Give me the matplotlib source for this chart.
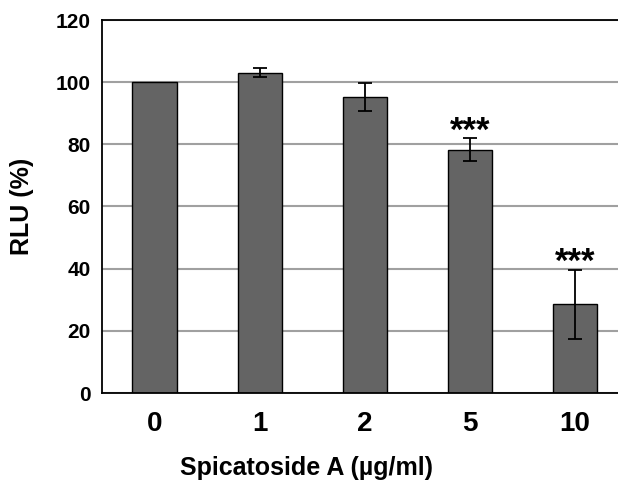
import matplotlib
matplotlib.use("Agg")
import matplotlib.pyplot as plt

categories = ["0", "1", "2", "5", "10"]
values = [100.0, 103.1, 95.2, 78.2, 28.6]
errors = [0.0, 1.4, 4.6, 3.7, 11.1]
sig_labels = ["", "", "", "***", "***"]
yticks = [0, 20, 40, 60, 80, 100, 120]

plt.rcParams['font.family'] = ['Liberation Sans', 'DejaVu Sans']

fig = plt.figure(figsize=(6.18, 4.86), dpi=100)
ax = fig.add_axes([102/618, 93/486, 525.5/618, 373/486])

x = list(range(len(categories)))
ax.set_axisbelow(True)
ax.yaxis.grid(True, color='#a0a0a0', linewidth=1.5)
ax.bar(x, values, width=0.42, color='#646464', edgecolor='black', linewidth=1.0, zorder=2)
ex = [xi for xi, e in zip(x, errors) if e > 0]
ev = [v for v, e in zip(values, errors) if e > 0]
ee = [e for e in errors if e > 0]
ax.errorbar(ex, ev, yerr=ee, fmt='none', ecolor='black', elinewidth=1.3,
            capsize=5, capthick=1.3, zorder=3)
for xi, v, e, s in zip(x, values, errors, sig_labels):
    if s:
        ax.text(xi, v + e - 3.0, s, ha='center', va='bottom', fontsize=25, fontweight='bold')

ax.set_xlim(-0.5, 4.5)
ax.set_ylim(0, 120)
ax.set_yticks(yticks)
ax.set_xticks(x)
ax.set_xticklabels(categories, fontsize=20, fontweight='bold')
ax.set_yticklabels([str(t) for t in yticks], fontsize=15, fontweight='bold')
ax.tick_params(axis='both', length=0)
ax.tick_params(axis='x', pad=13)
ax.tick_params(axis='y', pad=8)
for sp in ax.spines.values():
    sp.set_linewidth(1.3)
    sp.set_color('black')

ax.set_xlabel("Spicatoside A (µg/ml)", fontsize=18, fontweight='bold')
ax.xaxis.set_label_coords((307 - 102) / 525.5, -0.168)
ax.set_ylabel("RLU (%)", fontsize=18, fontweight='bold', labelpad=16)

fig.savefig("out.png", dpi=100)
